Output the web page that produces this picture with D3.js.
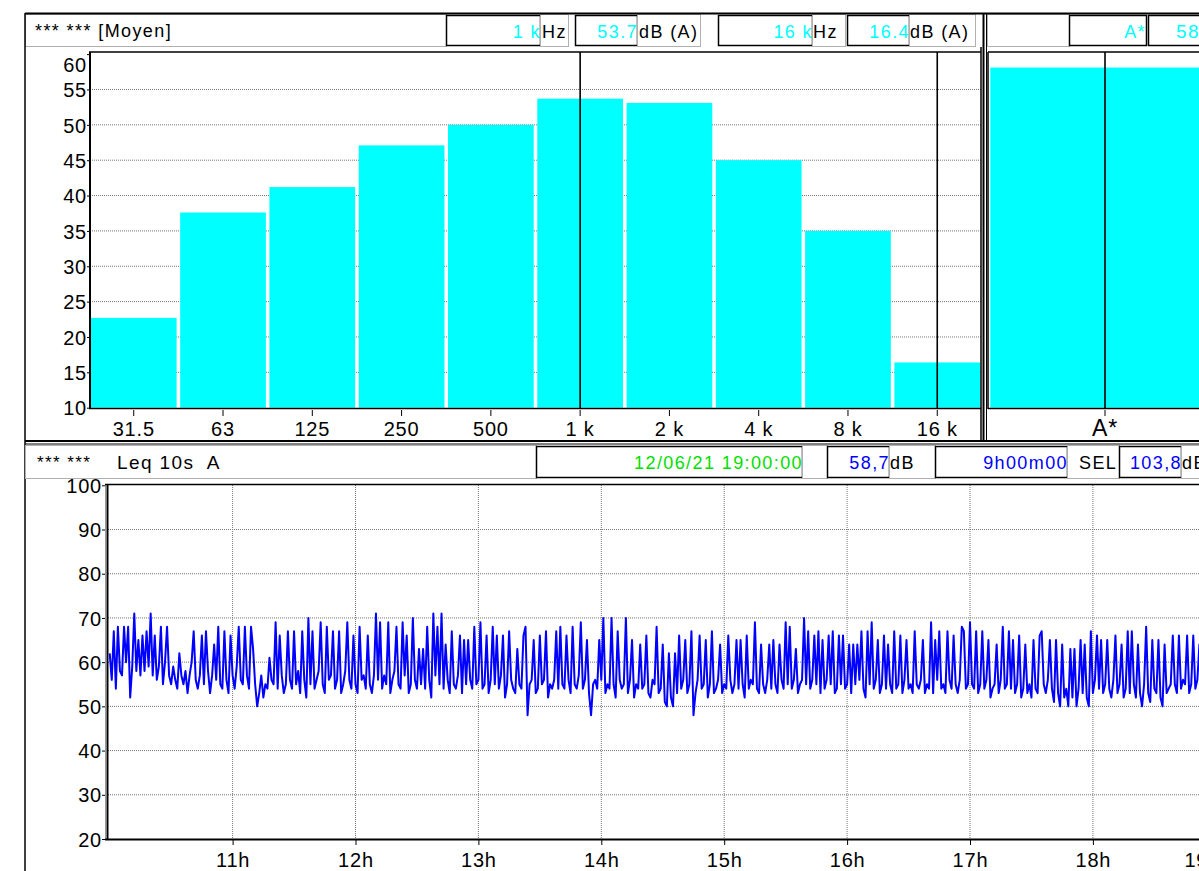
<!DOCTYPE html>
<html><head><meta charset="utf-8">
<script src="https://cdn.jsdelivr.net/npm/d3@7"></script>
<style>
html,body{margin:0;padding:0;background:#fff;overflow:hidden;}
svg{display:block;font-family:"Liberation Sans",Arial,sans-serif;}
</style></head><body>
<svg id="chart" width="1199" height="871"></svg>
<script>
// Octave-band spectrum (average over the period), dB(A)
const bandLabels = ["31.5", "63", "125", "250", "500", "1 k", "2 k", "4 k", "8 k", "16 k"];
const bandLevels = [22.7, 37.6, 41.2, 47.1, 50.0, 53.7, 53.1, 45.0, 35.0, 16.4];
const cursorBands = ["1 k", "16 k"];
const levelTicks = [10, 15, 20, 25, 30, 35, 40, 45, 50, 55, 60];

// Overall weighted level
const totalLabels = ["A*"];
const totalLevels = [58.1];

// Leq 10s A history, one reading per minute from 10:00 to 18:59
const leqStart = "2021-06-12T10:00:00";
const leqValues = [
  62,56,67,54,68,58,57,68,60,68,52,59,71,58,65,57,66,58,67,59,
  71,57,66,56,59,68,55,60,68,57,55,59,56,54,62,57,55,58,53,57,
  60,67,56,54,57,66,55,67,58,53,57,64,56,68,55,54,67,56,53,66,
  57,54,59,68,56,55,68,57,54,68,63,55,50,53,57,52,55,54,61,56,
  55,69,54,66,57,53,55,67,56,54,67,55,58,53,67,56,52,70,55,67,
  54,56,58,69,55,53,68,56,57,67,54,56,67,53,55,58,69,56,54,66,
  55,53,68,56,57,54,66,55,53,57,71,56,69,54,57,55,69,53,56,58,
  68,55,54,69,57,66,53,55,70,56,54,63,55,63,54,68,56,52,71,57,
  68,55,71,54,64,56,53,67,55,54,57,66,53,65,55,65,56,54,68,55,
  56,69,54,55,66,53,56,68,55,66,54,57,66,52,55,67,56,54,53,63,
  55,54,66,68,48,55,56,65,53,54,66,55,56,67,52,55,54,56,67,54,
  68,55,54,66,56,53,68,55,54,57,69,54,56,65,53,48,55,56,54,65,
  56,70,53,55,54,70,55,52,67,56,54,55,70,53,56,65,52,55,54,64,
  54,55,66,53,52,56,55,68,53,54,64,51,50,62,52,50,62,53,66,54,
  56,65,53,55,67,48,53,56,66,54,55,65,52,55,67,53,54,56,64,53,
  55,54,66,56,53,55,65,54,65,55,52,66,54,56,55,69,54,53,64,55,
  53,56,64,54,65,55,53,64,56,54,69,55,68,54,56,63,53,55,56,70,
  55,67,54,56,66,55,67,53,65,54,56,66,55,67,53,54,66,55,66,54,
  55,64,53,64,55,64,56,67,54,52,67,55,69,54,56,65,53,55,66,54,
  64,55,53,67,54,55,66,53,56,65,54,55,53,67,55,54,56,65,53,55,
  54,69,53,65,56,67,54,55,53,67,56,54,66,55,53,56,68,67,54,55,
  69,55,54,67,53,55,67,54,56,65,52,54,55,64,53,56,68,54,55,67,
  54,65,53,55,66,52,54,64,53,55,52,65,54,53,66,67,55,53,56,65,
  54,51,65,53,50,64,52,54,50,63,52,63,50,54,65,53,64,52,50,67,
  53,56,66,54,65,53,55,65,54,52,56,66,53,55,64,52,54,67,53,67,
  55,52,64,53,50,55,68,53,51,65,54,53,65,52,50,64,53,54,55,66,
  55,53,66,54,56,55,66,53,55,66,54,56,64,55,53,66,54,56,55,58
];
const historyTicks = [20, 30, 40, 50, 60, 70, 80, 90, 100];
const hourTicks = [11, 12, 13, 14, 15, 16, 17, 18, 19];

// Summary fields of the history panel
const periodEnd = "12/06/21 19:00:00";
const periodLeq = "58,7";
const periodLength = "9h00m00";
const periodSel = "103,8";

const CYAN = "#00ffff", BLUE = "#0000ff", GREEN = "#00e000";
const FONT = "Liberation Sans, Arial, sans-serif";
const svg = d3.select("#chart");

// ---------- helpers ----------
function cell(x0, x1, y0, y1, dark) {
  svg.append("rect").attr("x", x0 + 0.5).attr("y", y0 + 0.5)
    .attr("width", x1 - x0).attr("height", y1 - y0)
    .attr("fill", "#fff")
    .attr("stroke", dark ? "#000" : "#b0b0b0")
    .attr("stroke-width", dark ? 1.5 : 1);
}
function text(x, y, s, color, anchor, size) {
  return svg.append("text").attr("x", x).attr("y", y)
    .attr("fill", color || "#000")
    .attr("text-anchor", anchor || "start")
    .attr("letter-spacing", 1.4)
    .attr("font-size", size || 18).text(s);
}
function hline(x0, x1, y, color, w) {
  svg.append("line").attr("x1", x0).attr("x2", x1).attr("y1", y).attr("y2", y)
    .attr("stroke", color).attr("stroke-width", w);
}
function vline(x, y0, y1, color, w) {
  svg.append("line").attr("x1", x).attr("x2", x).attr("y1", y0).attr("y2", y1)
    .attr("stroke", color).attr("stroke-width", w);
}
function styleTicks(g, size) {
  g.selectAll("text").attr("font-size", size || 20).attr("font-family", FONT)
    .attr("letter-spacing", 0.8).attr("fill", "#000");
  g.selectAll("line").attr("stroke", "#000");
}

// ---------- spectrum panel ----------
const bx = d3.scaleBand().domain(bandLabels).range([90, 981]).paddingInner(0.04).paddingOuter(0.01);
const by = d3.scaleLinear().domain([10, 60.3]).range([407.7, 52]);

// header row
cell(25, 446, 14, 46, false);
text(35, 37, "*** *** [Moyen]", "#000", "start", 18);
const c1 = bandLevels[bandLabels.indexOf(cursorBands[0])];
const c2 = bandLevels[bandLabels.indexOf(cursorBands[1])];
cell(446, 540, 15, 45, true);  text(541, 38, cursorBands[0], CYAN, "end");
cell(540, 568, 14, 46, false); text(542, 38, "Hz");
cell(575, 637, 15, 45, true);  text(638, 38, c1.toFixed(1), CYAN, "end");
cell(637, 700, 14, 46, false); text(639, 38, "dB (A)");
cell(718, 812, 15, 45, true);  text(813, 38, cursorBands[1], CYAN, "end");
cell(812, 845, 14, 46, false); text(813, 38, "Hz");
cell(847, 909, 15, 45, true);  text(910, 38, c2.toFixed(1), CYAN, "end");
cell(909, 975, 14, 46, false); text(910, 38, "dB (A)");
cell(987, 1069, 14, 46, false);
cell(1069, 1146, 15, 45, true); text(1146, 38, totalLabels[0], CYAN, "end");
cell(1148, 1240, 15, 45, true); text(1176, 38, totalLevels[0].toFixed(1), CYAN, "start", 19);

// gridlines
const gridTicks = levelTicks.filter(t => t > 10 && t < 60);
svg.append("g").selectAll("line").data(gridTicks).join("line")
  .attr("x1", 90).attr("x2", 981).attr("y1", d => by(d)).attr("y2", d => by(d))
  .attr("stroke", "#777").attr("stroke-width", 1).attr("stroke-dasharray", "1,1");

// bars
svg.append("g").selectAll("rect").data(bandLabels).join("rect")
  .attr("x", d => bx(d)).attr("width", bx.bandwidth())
  .attr("y", (d, i) => by(bandLevels[i]))
  .attr("height", (d, i) => by(10) - by(bandLevels[i]))
  .attr("fill", CYAN);

// cursors
cursorBands.forEach(b => vline(bx(b) + bx.bandwidth() / 2, 52, 408, "#000", 1.6));

// y axis labels
const yAxis = d3.axisLeft(by).tickValues(levelTicks).tickSize(3).tickFormat(d3.format("d"));
const gy = svg.append("g").attr("transform", "translate(90,0)").call(yAxis);
gy.select(".domain").remove();
styleTicks(gy);
gy.selectAll("text").attr("x", -3).attr("dy", "0.36em");
gy.selectAll(".tick").filter(d => d === 60).select("text").attr("dy", "0.85em");

// x axis
const xAxis = d3.axisBottom(bx).tickSize(6).tickPadding(4);
const gx = svg.append("g").attr("transform", "translate(0,408)").call(xAxis);
gx.select(".domain").remove();
styleTicks(gx);
gx.selectAll("line").attr("transform", "translate(0,2)");
gx.selectAll("text").attr("dy", "0.9em");

// plot frame
vline(90, 52, 409, "#000", 2);
hline(89, 981, 408.5, "#000", 1.5);
hline(89, 981, 52, "#000", 1.5);
vline(981, 47, 441, "#000", 1.5);

// ---------- overall level panel ----------
const tx = d3.scaleBand().domain(totalLabels).range([988, 1222]).paddingInner(0).paddingOuter(0.01);
svg.append("g").selectAll("rect").data(totalLabels).join("rect")
  .attr("x", d => tx(d)).attr("width", tx.bandwidth())
  .attr("y", (d, i) => by(totalLevels[i]))
  .attr("height", (d, i) => by(10) - by(totalLevels[i]))
  .attr("fill", CYAN);
vline(tx(totalLabels[0]) + tx.bandwidth() / 2, 52, 408, "#000", 1.6);
const gt = svg.append("g").attr("transform", "translate(0,408)").call(d3.axisBottom(tx).tickSize(6).tickPadding(4));
gt.select(".domain").remove();
styleTicks(gt, 23);
gt.selectAll("line").attr("transform", "translate(0,2)");
gt.selectAll("text").attr("dy", "0.8em");
vline(988, 52, 409, "#000", 1.5);
hline(988, 1240, 52, "#000", 1.5);
hline(988, 1240, 408.5, "#000", 1.5);

// separators and outer frame of the upper half
vline(983.5, 13, 442, "#000", 2);
vline(986.5, 13, 442, "#000", 1);
hline(25, 1240, 13.5, "#000", 2);
hline(25, 1240, 441, "#000", 2);
hline(25, 1240, 444, "#000", 1);
vline(25, 13, 871, "#000", 1.5);

// ---------- history panel ----------
const t0 = new Date(leqStart);
const hx = d3.scaleTime()
  .domain([t0, d3.timeHour.offset(t0, 9)])
  .range([109.7, 109.7 + 9 * 122.9]);
const hy = d3.scaleLinear().domain([20, 100]).range([839, 485.3]);

// header row
cell(25, 536, 445, 478, false);
text(37, 468, "*** ***", "#000", "start", 17);
text(117, 469, "Leq 10s\u00a0 A", "#000", "start", 19);
cell(536, 802, 446, 477, true);  text(803, 469, periodEnd, GREEN, "end");
cell(802, 827, 445, 478, false);
cell(827, 889, 446, 477, true);  text(890, 469, periodLeq, BLUE, "end");
cell(889, 935, 445, 478, false); text(890, 469, "dB");
cell(935, 1067, 446, 477, true); text(1068, 469, periodLength, BLUE, "end");
cell(1067, 1119, 445, 478, false); text(1079, 469, "SEL");
cell(1119, 1181, 446, 477, true); text(1182, 469, periodSel, BLUE, "end");
cell(1181, 1240, 445, 478, false); text(1182, 469, "dB");

// grid
const hourDates = hourTicks.map(h => d3.timeHour.offset(t0, h - 10));
svg.append("g").selectAll("line").data(historyTicks.filter(t => t > 20 && t < 100)).join("line")
  .attr("x1", 108).attr("x2", 1240).attr("y1", d => hy(d)).attr("y2", d => hy(d))
  .attr("stroke", "#777").attr("stroke-dasharray", "1,1");
svg.append("g").selectAll("line").data(hourDates).join("line")
  .attr("x1", d => hx(d)).attr("x2", d => hx(d)).attr("y1", 485).attr("y2", 839)
  .attr("stroke", "#777").attr("stroke-dasharray", "1,1");

// level trace
svg.append("clipPath").attr("id", "histClip").append("rect")
  .attr("x", 108).attr("y", 484).attr("width", 1140).attr("height", 355);
const pts = leqValues.map((v, i) => [d3.timeMinute.offset(t0, i), v]);
svg.append("path").datum(pts)
  .attr("clip-path", "url(#histClip)")
  .attr("fill", "none").attr("stroke", BLUE).attr("stroke-width", 2)
  .attr("stroke-linejoin", "round")
  .attr("d", d3.line().x(d => hx(d[0])).y(d => hy(d[1])));

// axes
const hyAxis = d3.axisLeft(hy).tickValues(historyTicks).tickSize(3).tickFormat(d3.format("d"));
const ghy = svg.append("g").attr("transform", "translate(105,0)").call(hyAxis);
ghy.select(".domain").remove();
styleTicks(ghy);
ghy.selectAll("text").attr("x", -3).attr("dy", "0.36em");

const hxAxis = d3.axisBottom(hx).tickValues(hourDates).tickSize(6).tickPadding(5)
  .tickFormat(d => d.getHours() + "h");
const ghx = svg.append("g").attr("transform", "translate(0,839)").call(hxAxis);
ghx.select(".domain").remove();
styleTicks(ghx);
ghx.selectAll("text").attr("dy", "0.85em");
// last hour label is kept inside the plot frame
ghx.selectAll(".tick").filter(d => d.getHours() === 19).select("text").attr("x", -14);

// plot frame
vline(105.5, 484, 840, "#999", 1);
vline(107.5, 484, 840, "#000", 2);
hline(105, 1240, 484.5, "#000", 1.5);
hline(105, 1240, 839.5, "#000", 2);
</script>
</body></html>
